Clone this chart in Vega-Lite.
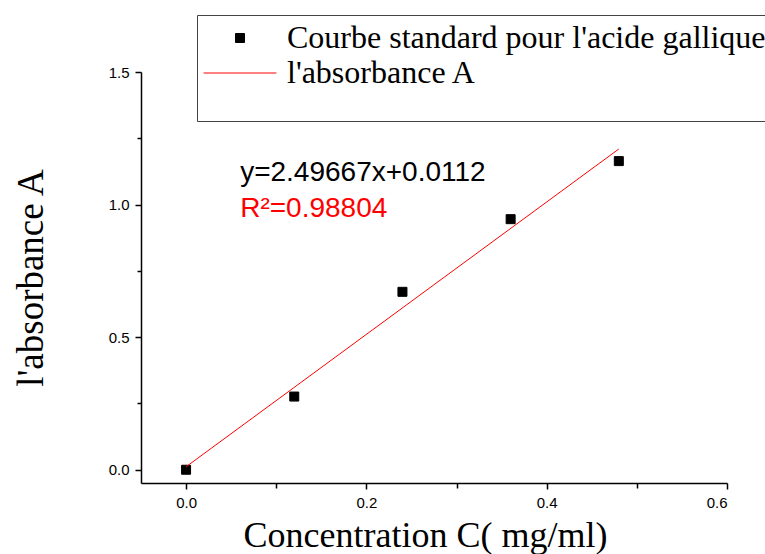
{
  "$schema": "https://vega.github.io/schema/vega-lite/v6.json",
  "width": 586,
  "height": 411,
  "autosize": {"type": "none"},
  "padding": {"left": 141, "top": 72, "right": 38, "bottom": 71},
  "background": "white",
  "config": {"view": {"stroke": null}},
  "datasets": {
    "pts": [
      {"c": 0.0, "a": 0.0, "series": "Courbe standard pour l'acide gallique"},
      {"c": 0.12, "a": 0.276, "series": "Courbe standard pour l'acide gallique"},
      {"c": 0.24, "a": 0.671, "series": "Courbe standard pour l'acide gallique"},
      {"c": 0.36, "a": 0.945, "series": "Courbe standard pour l'acide gallique"},
      {"c": 0.48, "a": 1.164, "series": "Courbe standard pour l'acide gallique"}
    ],
    "fitline": [
      {"c": 0.0, "a": 0.0112},
      {"c": 0.48, "a": 1.2096}
    ],
    "eq": [{"c": 0.06, "a": 1.09, "label": "y=2.49667x+0.0112"}],
    "r2": [{"c": 0.06, "a": 0.955, "label": "R²=0.98804"}]
  },
  "layer": [
    {
      "data": {"name": "pts"},
      "mark": {"type": "point", "filled": true, "opacity": 1, "strokeWidth": 1, "size": 81},
      "encoding": {
        "x": {"field": "c", "type": "quantitative", "scale": {"domain": [-0.05, 0.6], "nice": false, "zero": false},
          "axis": {"orient": "bottom", "values": [0, 0.2, 0.4, 0.6], "format": ".1f", "title": "Concentration C( mg/ml)", "grid": false,
            "domainColor": "black", "domainWidth": 1.5, "tickColor": "black", "tickWidth": 1.5, "tickSize": 6,
            "labelFont": "Liberation Sans", "labelFontSize": 15, "labelColor": "black", "labelPadding": 6,
            "titleFont": "Liberation Serif", "titleFontSize": 36, "titleFontWeight": "normal", "titleColor": "black", "titlePadding": 8,
            "titleX": 284, "titleAlign": "center"}},
        "y": {"field": "a", "type": "quantitative", "scale": {"domain": [-0.05, 1.5], "nice": false, "zero": false},
          "axis": {"orient": "left", "values": [0, 0.5, 1.0, 1.5], "format": ".1f", "title": "l'absorbance A", "grid": false,
            "domainColor": "black", "domainWidth": 1.5, "tickColor": "black", "tickWidth": 1.5, "tickSize": 6,
            "labelFont": "Liberation Sans", "labelFontSize": 15, "labelColor": "black", "labelPadding": 6,
            "titleFont": "Liberation Serif", "titleFontSize": 37, "titleFontWeight": "normal", "titleColor": "black", "titlePadding": 58}},
        "fill": {"field": "series", "type": "nominal", "scale": {"domain": ["Courbe standard pour l'acide gallique", "l'absorbance A"], "range": ["black", "red"]},
          "legend": {"orient": "none", "legendX": 56, "legendY": -57, "title": " ", "titleOrient": "bottom", "titleFontSize": 25, "titlePadding": 0,
            "strokeColor": "#444", "fillColor": "white", "padding": 7, "rowPadding": 3, "labelOffset": 31, "symbolOffset": 20, "labelLimit": 0,
            "labelFont": "Liberation Serif", "labelFontSize": 32, "labelColor": "black", "symbolOpacity": 1, "symbolStrokeWidth": 1, "symbolSize": 81}},
        "stroke": {"field": "series", "type": "nominal", "scale": {"domain": ["Courbe standard pour l'acide gallique", "l'absorbance A"], "range": ["black", "red"]}},
        "shape": {"field": "series", "type": "nominal", "scale": {"domain": ["Courbe standard pour l'acide gallique", "l'absorbance A"], "range": ["square", "M-8.1,0L8.1,0"]}}
      }
    },
    {
      "data": {"name": "fitline"},
      "mark": {"type": "line", "color": "red", "strokeWidth": 1},
      "encoding": {
        "x": {"field": "c", "type": "quantitative", "axis": null},
        "y": {"field": "a", "type": "quantitative", "axis": null}
      }
    },
    {
      "data": {"name": "eq"},
      "mark": {"type": "text", "align": "left", "baseline": "alphabetic", "font": "Liberation Sans", "fontSize": 28, "color": "black"},
      "encoding": {
        "x": {"field": "c", "type": "quantitative", "axis": {"orient": "bottom", "values": [0.1, 0.3, 0.5], "labels": false, "domain": false, "grid": false, "title": null, "tickSize": 5, "tickWidth": 1.5, "tickColor": "black"}},
        "y": {"field": "a", "type": "quantitative", "axis": {"orient": "left", "values": [0.25, 0.75, 1.25], "labels": false, "domain": false, "grid": false, "title": null, "tickSize": 4, "tickWidth": 1.5, "tickColor": "black"}},
        "text": {"field": "label"}
      }
    },
    {
      "data": {"name": "r2"},
      "mark": {"type": "text", "align": "left", "baseline": "alphabetic", "font": "Liberation Sans", "fontSize": 28, "color": "red"},
      "encoding": {
        "x": {"field": "c", "type": "quantitative", "axis": null},
        "y": {"field": "a", "type": "quantitative", "axis": null},
        "text": {"field": "label"}
      }
    }
  ],
  "resolve": {"axis": {"x": "independent", "y": "independent"}}
}
